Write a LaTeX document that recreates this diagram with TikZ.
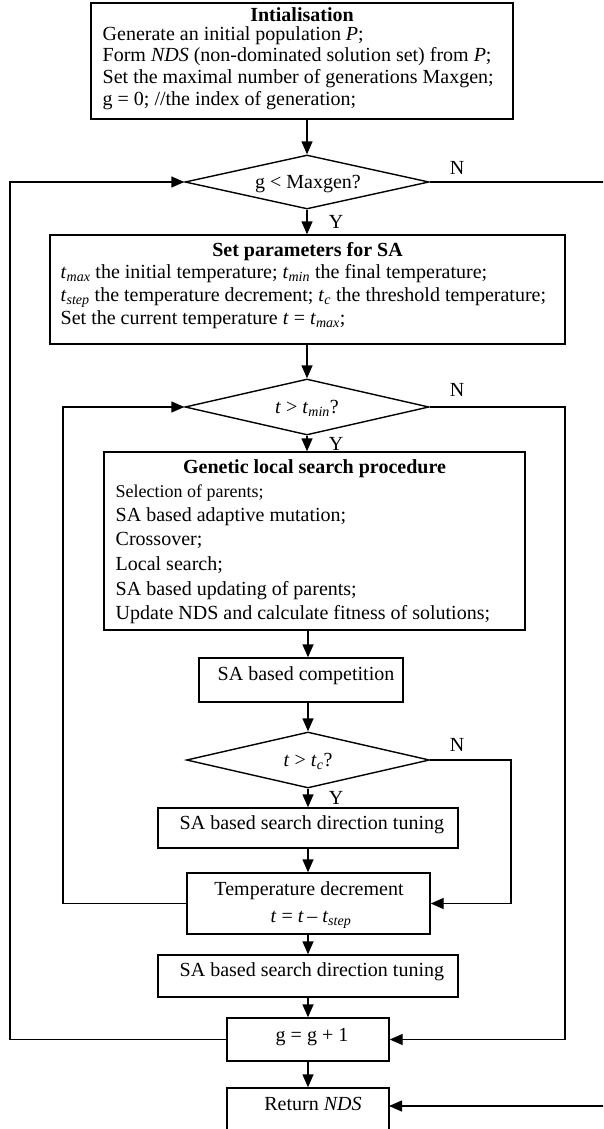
\documentclass[tikz,border=0pt]{standalone}
\usepackage{fontspec}
\setmainfont{Liberation Serif}
\usetikzlibrary{arrows.meta,shapes.geometric}
\newcommand{\Tsub}[1]{\textit{t}\textsubscript{\textit{#1}}}
\begin{document}
\begin{tikzpicture}[x=1pt,y=-1pt,
  line width=1.4pt,
  font=\fontsize{20}{23}\selectfont,
  boxst/.style={draw, rectangle, inner sep=0pt},
  decst/.style={draw, diamond, inner sep=0pt},
  txt/.style={inner sep=0pt, anchor=base west},
  ctxt/.style={inner sep=0pt, anchor=base},
  arr/.style={-{Triangle[length=13pt,width=11pt]}}]
\useasboundingbox (0,0) rectangle (603,1129);
\clip (0,0) rectangle (603,1129);
% boxes
\node[boxst, minimum width=422, minimum height=116] (init) at (302,61) {};
\node[decst, minimum width=244, minimum height=54] (d1) at (307,182) {};
\node[boxst, minimum width=515, minimum height=109] (sa) at (307.5,289.5) {};
\node[decst, minimum width=244, minimum height=56] (d2) at (307,407) {};
\node[boxst, minimum width=421, minimum height=178] (gls) at (314.5,541) {};
\node[boxst, minimum width=204, minimum height=44] (comp) at (301,680) {};
\node[decst, minimum width=243, minimum height=56] (d3) at (308,760) {};
\node[boxst, minimum width=300, minimum height=40] (s1) at (308,828) {};
\node[boxst, minimum width=243, minimum height=61] (temp) at (308.5,903.5) {};
\node[boxst, minimum width=300, minimum height=42] (s2) at (308,976) {};
\node[boxst, minimum width=162, minimum height=43] (gg) at (308,1039.5) {};
\node[boxst, minimum width=162, minimum height=72] (ret) at (308,1124) {};
% texts
\node[ctxt] (initT) at (302,22) {\textbf{Intialisation}};
\node[txt] (init1) at (102,41) {Generate an initial population \textit{P};};
\node[txt] (init2) at (102,62) {Form \textit{NDS} (non-dominated solution set) from \textit{P};};
\node[txt] (init3) at (102,84) {Set the maximal number of generations Maxgen;};
\node[txt] (init4) at (102,106) {g = 0; //the index of generation;};
\node[ctxt] (d1T) at (308,188) {g < Maxgen?};
\node[ctxt] (saT) at (307.5,256) {\textbf{Set parameters for SA}};
\node[txt] (sa1) at (60,278) {\Tsub{max} the initial temperature; \Tsub{min} the final temperature;};
\node[txt] (sa2) at (60,301) {\Tsub{step} the temperature decrement; \Tsub{c} the threshold temperature;};
\node[txt] (sa3) at (60,324) {Set the current temperature \textit{t} = \Tsub{max};};
\node[ctxt] (d2T) at (307,413) {\textit{t} > \Tsub{min}?};
\node[ctxt] (glsT) at (314.5,473) {\textbf{Genetic local search procedure}};
\node[txt, font=\fontsize{18}{21}\selectfont] (gls1) at (115,497) {Selection of parents;};
\node[txt] (gls2) at (115,521) {SA based adaptive mutation;};
\node[txt] (gls3) at (115,545) {Crossover;};
\node[txt] (gls4) at (115,570) {Local search;};
\node[txt] (gls5) at (115,595) {SA based updating of parents;};
\node[txt] (gls6) at (115,619) {Update NDS and calculate fitness of solutions;};
\node[txt] (compT) at (217,680) {SA based competition};
\node[ctxt] (d3T) at (308,766) {\textit{t} > \Tsub{c}?};
\node[txt] (s1T) at (179,829) {SA based search direction tuning};
\node[ctxt] (tempT1) at (309,895) {Temperature decrement};
\node[ctxt] (tempT2) at (311,922) {\textit{t} = \textit{t}\,– \Tsub{step}};
\node[txt] (s2T) at (179,976) {SA based search direction tuning};
\node[ctxt] (ggT) at (312,1041) {g = g + 1};
\node[ctxt] (retT) at (313,1110) {Return \textit{NDS}};
% labels
\node[ctxt] (n1) at (457,174) {N};
\node[ctxt] (y1) at (336,228) {Y};
\node[ctxt] (n2) at (457,396) {N};
\node[ctxt] (y2) at (336,450) {Y};
\node[ctxt] (n3) at (457,751) {N};
\node[ctxt] (y3) at (336,804) {Y};
% main flow
\draw[arr] (init.south -| d1.north) -- (d1.north);
\draw[arr] (d1.south) -- (d1.south |- sa.north);
\draw[arr] (sa.south -| d2.north) -- (d2.north);
\draw[arr] (d2.south) -- (d2.south |- gls.north);
\draw[arr] (gls.south -| d3.north) -- (comp.north -| d3.north);
\draw[arr] (comp.south -| d3.north) -- (d3.north);
\draw[arr] (d3.south) -- (d3.south |- s1.north);
\draw[arr] (s1.south) -- (s1.south |- temp.north);
\draw[arr] (temp.south -| s1.south) -- (s1.south |- s2.north);
\draw[arr] (s2.south) -- (s2.south |- gg.north);
\draw[arr] (gg.south) -- (gg.south |- ret.north);
% loops
\coordinate (outL) at (10,1039.5);
\draw[arr] (gg.west) -- (outL) |- (d1.west);
\coordinate (inL) at (63,903.5);
\draw[arr] (temp.west) -- (inL) |- (d2.west);
\coordinate (n2R) at (565,407);
\draw[arr] (d2.east) -- (n2R) |- (gg.east);
\coordinate (n3R) at (511,760);
\draw[arr] (d3.east) -- (n3R) |- (temp.east);
\coordinate (n1R) at (612,182);
\coordinate (retE) at (389,1106);
\draw[arr] (d1.east) -- (n1R) |- (retE);
\end{tikzpicture}
\end{document}
